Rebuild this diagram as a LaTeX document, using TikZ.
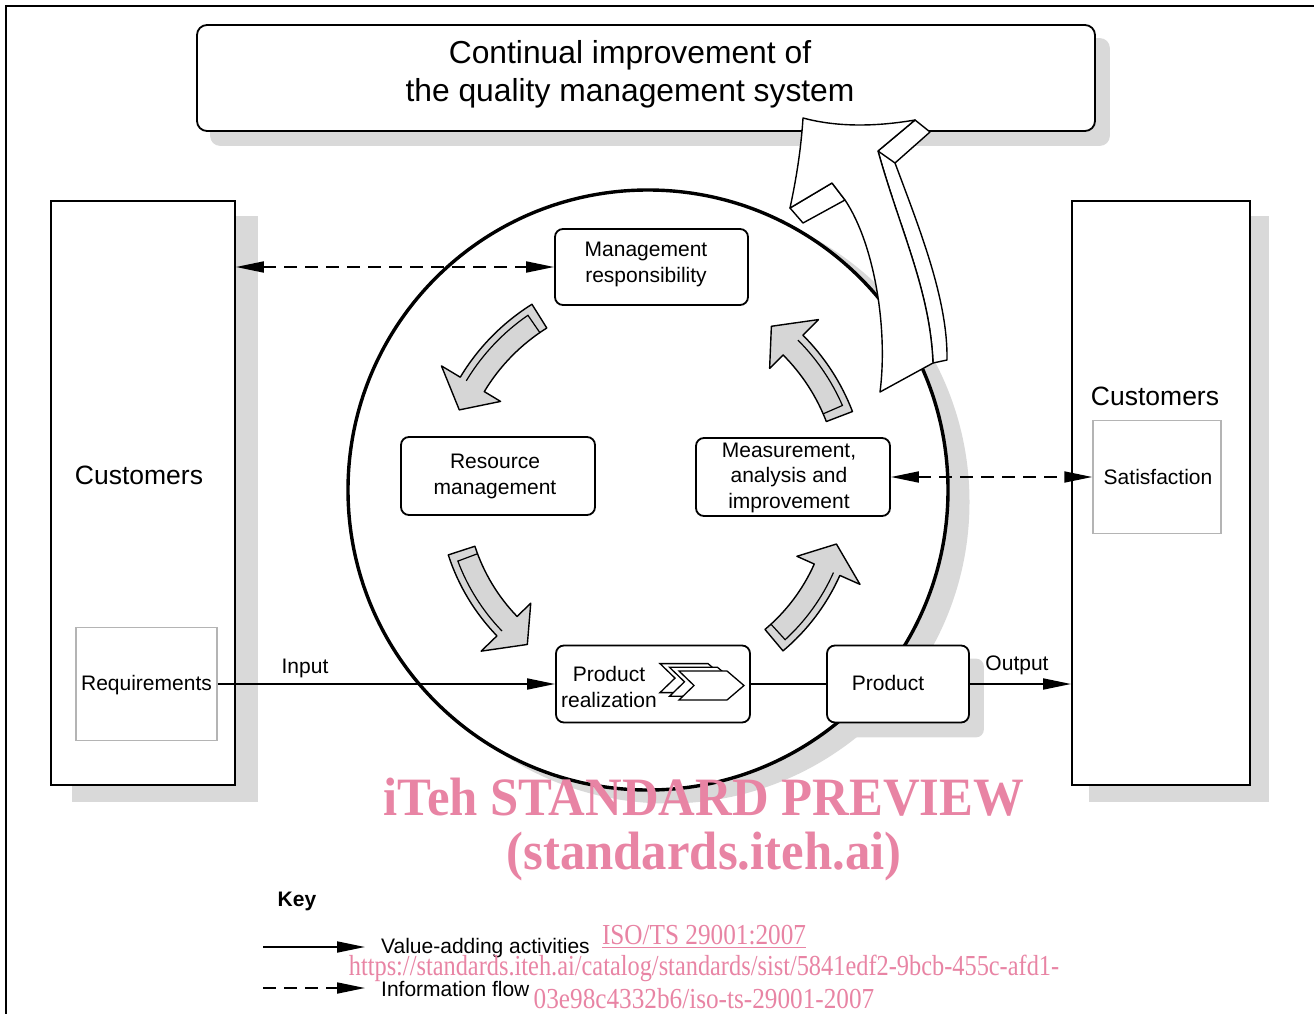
\documentclass[tikz,border=0pt]{standalone}
\usepackage{fontspec}
\setmainfont{Liberation Sans}
\newfontfamily\wmfont{Liberation Serif}
\usetikzlibrary{arrows.meta,calc}
\definecolor{shgray}{RGB}{217,217,217}
\definecolor{argray}{RGB}{214,214,214}
\definecolor{bxgray}{RGB}{180,180,180}
\definecolor{wmpink}{RGB}{232,132,164}
\pgfdeclarelayer{l0}\pgfdeclarelayer{l1}\pgfdeclarelayer{l2}
\pgfsetlayers{l0,l1,l2,main}
\newcommand\garrow[3]{%
 \pgfmathsetmacro\gbase{#2+8}%
 \pgfmathsetmacro\gri{#3-14}\pgfmathsetmacro\gro{#3+14}%
 \pgfmathsetmacro\gwi{#3-33}\pgfmathsetmacro\gwo{#3+36}%
 \pgfmathsetmacro\gbev{#3+7}\pgfmathsetmacro\gtail{#1-2.5}%
 \draw[garr] (#1:\gro) arc[start angle=#1,end angle=\gbase,radius=\gro] -- (\gbase:\gwo) -- (#2:#3) -- (\gbase:\gwi) -- (\gbase:\gri) arc[start angle=\gbase,end angle=#1,radius=\gri] -- cycle;
 \draw[garrline] (\gtail:\gri) -- (\gtail:\gbev) arc[start angle=\gtail,end angle=\gbase,radius=\gbev];
}
\begin{document}
\begin{tikzpicture}[x=1pt,y=-1pt,
  rbox/.style={draw, line width=1.8pt, rounded corners=8pt, fill=white, inner sep=0pt},
  cbox/.style={draw, line width=1.8pt, fill=white, inner sep=0pt},
  gbox/.style={draw=bxgray, line width=1.5pt, fill=white, inner sep=0pt},
  txt/.style={font=\fontsize{21}{25.5}\selectfont, align=center, inner sep=0pt},
  bigtxt/.style={font=\fontsize{26.5}{30}\selectfont, inner sep=0pt},
  flow/.style={line width=1.8pt, -{Triangle[length=28pt,width=11pt]}},
  info/.style={line width=1.8pt, dash pattern=on 13pt off 8pt, {Triangle[length=28pt,width=11pt]}-{Triangle[length=28pt,width=11pt]}},
  garr/.style={draw, line width=1.4pt, fill=argray, line join=round},
  garrline/.style={line width=1.2pt},
  bigarr/.style={draw, line width=1.4pt, fill=white, line join=round},
  chev/.style={draw, line width=1.3pt, fill=white, line join=miter},
  wm/.style={text=wmpink, inner sep=0pt},
]
\useasboundingbox (0,0) rectangle (1314,1014);
% frame
\draw[line width=2.6pt] (6,1014) -- (6,6) -- (1314,6);

% title
\node[rbox, rounded corners=10pt, minimum width=898pt, minimum height=106pt] (title) at (646,78) {};
\node[font=\fontsize{31.8}{38}\selectfont, align=center, inner sep=0pt] (titlet) at (630,74)
      {Continual improvement of\\the quality management system};

% customers boxes
\node[cbox, minimum width=184pt, minimum height=584pt] (lc) at (143,493) {};
\node[bigtxt] (lct) at (139,475) {Customers};
\node[gbox, minimum width=141pt, minimum height=113pt] (req) at (146.5,684) {};
\node[txt] (reqt) at (146.5,685.5) {Requirements};

\node[cbox, minimum width=178pt, minimum height=584pt] (rc) at (1161,493) {};
\node[bigtxt] (rct) at (1155,396) {Customers};
\node[gbox, minimum width=128pt, minimum height=113pt] (sat) at (1157,477) {};
\node[txt] (satt) at (1158,477) {Satisfaction};

% circle
\node[circle, draw, line width=3.4pt, fill=white, minimum size=600pt, inner sep=0pt] (circ) at (648,490) {};

% process boxes
\node[rbox, minimum width=193pt, minimum height=76pt] (mr) at (651.5,267) {};
\node[txt] (mrt) at (646,264.5) {Management\\responsibility};
\node[rbox, minimum width=194pt, minimum height=78pt] (rm) at (498,476) {};
\node[txt] (rmt) at (495,476.5) {Resource\\management};
\node[rbox, minimum width=194pt, minimum height=78pt] (mai) at (793,477) {};
\node[txt] (mait) at (789,477.5) {Measurement,\\analysis and\\improvement};
\node[rbox, minimum width=194pt, minimum height=77pt] (pr) at (653,684) {};
\node[txt] (prt) at (609,687) {Product\\realization};
\node[rbox, minimum width=142pt, minimum height=77pt] (prod) at (898,684) {};
\node[txt] (prodt) at (888,683) {Product};

% shadows
\begin{pgfonlayer}{l0}
\fill[shgray, rounded corners=10pt] ($(title.north west)+(14,14)$) rectangle ($(title.south east)+(14,14)$);
\fill[shgray] ($(lc.north west)+(22,16)$) rectangle ($(lc.south east)+(22,16)$);
\fill[shgray] ($(rc.north west)+(18,16)$) rectangle ($(rc.south east)+(18,16)$);
\fill[shgray] ($(circ.center)+(20,12)$) circle[radius=301.5];
\end{pgfonlayer}
\begin{pgfonlayer}{l2}
\foreach \b in {mr,rm,mai,pr,prod}{
  \fill[shgray, rounded corners=8pt] ($(\b.north west)+(14,14)$) rectangle ($(\b.south east)+(14,14)$);
}
\end{pgfonlayer}

% chevron icon
\foreach \dx/\dy in {-19/-7.4,-9.5/-3.7,0/0}{
  \draw[chev, shift={(\dx,\dy)}] (679,671) -- (727,671) -- (744,685.5) -- (727,700) -- (679,700) -- (694,685.5) -- cycle;
}

% connectors
\draw[flow] (req.east) -- (pr.west);
\draw[line width=1.8pt] (pr.east) -- (prod.west);
\draw[flow] (prod.east) -- (prod.east -| rc.west);
\draw[info] (lc.east |- mr.west) -- (mr.west);
\draw[info] (mai.east) -- (sat.west);
\node[txt, anchor=base] (inl) at (305,673) {Input};
\node[txt, anchor=base] (outl) at (1017,670) {Output};

% gray curved arrows
\begin{scope}[shift={(648,490)}]
\garrow{-122}{-157}{205}
\garrow{162}{128}{196}
\garrow{50}{16}{196}
\garrow{-21}{-53}{205}
\end{scope}

% big white arrow
\draw[bigarr] (915,120) -- (930,132) -- (895,163) .. controls (920,230) and (948,300) .. (947,360) -- (933,363) .. controls (930,290) and (900,230) .. (878,151) -- cycle;
\draw[bigarr] (790,208) -- (803,223) -- (845,200) -- (832,183) -- cycle;
\draw[bigarr] (803,118) .. controls (840,128) and (880,126) .. (915,120) -- (878,151) .. controls (900,230) and (930,290) .. (933,363) -- (880,392) .. controls (888,330) and (875,245) .. (845,200) -- (832,183) -- (790,208) .. controls (796,180) and (801,150) .. (803,118) -- cycle;
\draw[line width=1.4pt] (878,151) -- (895,163);

% key
\node[font=\fontsize{21}{25}\selectfont\bfseries, inner sep=0pt] (key) at (297,901) {Key};
\coordinate (k1a) at (263,947); \coordinate (k1b) at (365,947);
\coordinate (k2a) at (263,988); \coordinate (k2b) at (365,988);
\draw[flow] (k1a) -- (k1b);
\draw[line width=1.8pt, dash pattern=on 13pt off 8pt, -{Triangle[length=28pt,width=11pt]}] (k2a) -- (k2b);
\node[txt, anchor=west] (k1t) at (381,948.5) {Value-adding activities};
\node[txt, anchor=west] (k2t) at (381,988.5) {Information flow};

% watermark
\node[wm, font=\wmfont\bfseries\fontsize{54}{60}\selectfont, xscale=0.94] (wm1) at (704,797) {iTeh STANDARD PREVIEW};
\node[wm, font=\wmfont\bfseries\fontsize{54}{60}\selectfont, xscale=0.94] (wm2) at (704,857) {(standards.iteh.ai)};
\node[wm, font=\wmfont\fontsize{29}{32}\selectfont, xscale=0.87] (iso) at (704,935) {ISO/TS 29001:2007};
\draw[wmpink, line width=1.2pt] ($(iso.base west)+(0,3)$) -- ($(iso.base east)+(0,3)$);
\node[wm, font=\wmfont\fontsize{29}{32}\selectfont, xscale=0.84] (url1) at (704,968) {https://standards.iteh.ai/catalog/standards/sist/5841edf2-9bcb-455c-afd1-};
\node[wm, font=\wmfont\fontsize{29}{32}\selectfont, xscale=0.87] (url2) at (704,999) {03e98c4332b6/iso-ts-29001-2007};
\end{tikzpicture}
\end{document}
